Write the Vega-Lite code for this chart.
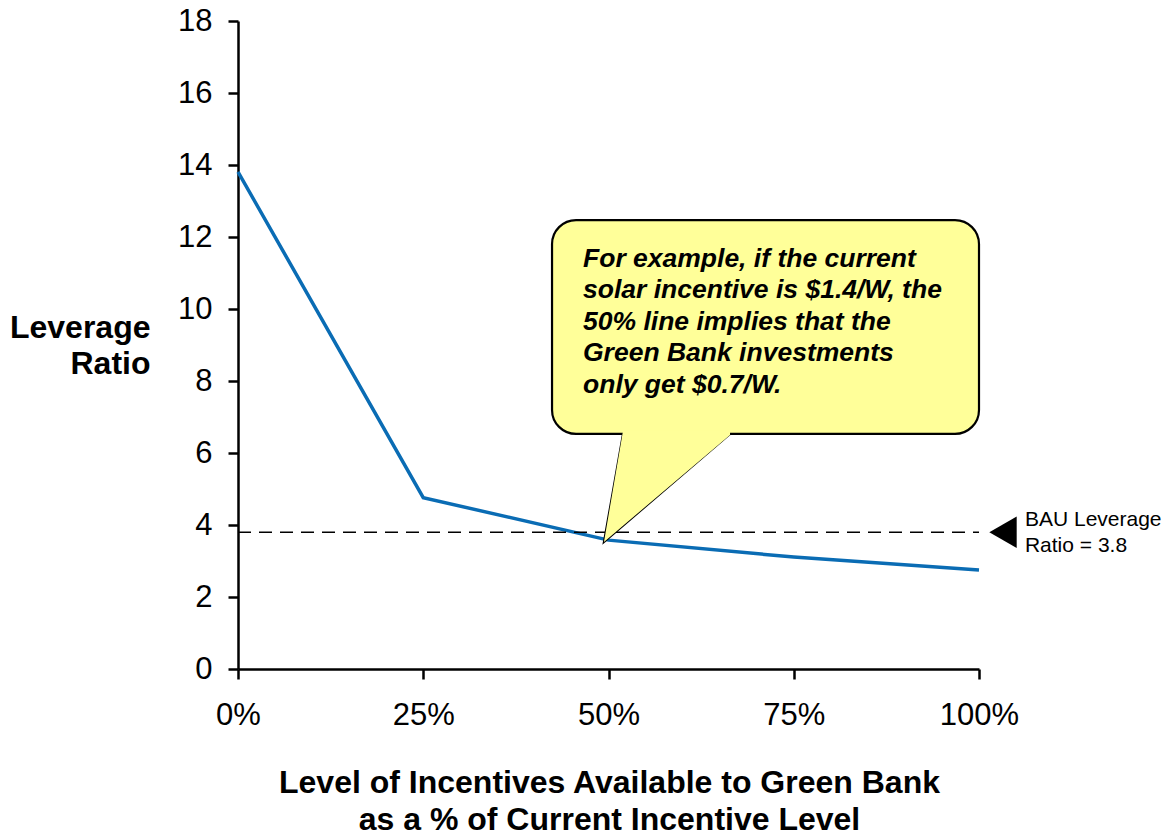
{
  "$schema": "https://vega.github.io/schema/vega-lite/v6.json",
  "width": 741,
  "height": 648,
  "autosize": {"type": "none"},
  "padding": {"left": 238, "top": 21, "right": 184, "bottom": 165},
  "background": "white",
  "config": {
    "view": {"stroke": null},
    "font": "Liberation Sans",
    "axis": {
      "grid": false,
      "domainColor": "black",
      "domainWidth": 2.5,
      "tickColor": "black",
      "tickWidth": 2.5,
      "tickSize": 10,
      "labelColor": "black",
      "labelFont": "Liberation Sans",
      "labelFontSize": 31,
      "labelFlush": false,
      "titleColor": "black",
      "titleFont": "Liberation Sans",
      "titleFontWeight": "bold",
      "titleFontSize": 32
    }
  },
  "datasets": {
    "series": [
      {"x": 0, "y": 13.81},
      {"x": 0.25, "y": 4.76},
      {"x": 0.5, "y": 3.58},
      {"x": 0.75, "y": 3.11},
      {"x": 1, "y": 2.75}
    ],
    "bau": [
      {"x": 0, "y": 3.8},
      {"x": 1, "y": 3.8}
    ],
    "box": [
      {"x": 0.4238, "x2": 1.0, "y": 12.47, "y2": 6.53}
    ],
    "pointerFill": [
      {"x": 0.4939, "y": 3.528, "y2": 3.528},
      {"x": 0.5196, "y": 6.62, "y2": 3.98},
      {"x": 0.664, "y": 6.62, "y2": 6.5}
    ],
    "pointerEdge": [
      {"o": 1, "x": 0.5196, "y": 6.53},
      {"o": 2, "x": 0.4939, "y": 3.528},
      {"o": 3, "x": 0.664, "y": 6.53}
    ],
    "calloutText": [
      {"x": 0.4656, "y": 11.17, "t": ["For example, if the current", "solar incentive is $1.4/W, the", "50% line implies that the", "Green Bank investments", "only get $0.7/W."]}
    ],
    "bauMarker": [
      {"x": 1.0324, "y": 3.8}
    ],
    "bauText": [
      {"x": 1.062, "y": 3.97, "t": ["BAU Leverage", "Ratio = 3.8"]}
    ]
  },
  "layer": [
    {
      "data": {"name": "series"},
      "mark": {"type": "line", "color": "#0a6cb4", "strokeWidth": 3.5},
      "encoding": {
        "x": {
          "field": "x", "type": "quantitative",
          "scale": {"domain": [0, 1], "nice": false, "zero": false},
          "axis": {
            "values": [0, 0.25, 0.5, 0.75, 1],
            "format": ".0%",
            "labelPadding": 21,
            "title": ["Level of Incentives Available to Green Bank", "as a % of Current Incentive Level"],
            "titleAnchor": "middle",
            "titleX": 371,
            "titleY": 123,
            "titleBaseline": "alphabetic",
            "titleLineHeight": 37
          }
        },
        "y": {
          "field": "y", "type": "quantitative",
          "scale": {"domain": [0, 18], "nice": false},
          "axis": {
            "values": [0, 2, 4, 6, 8, 10, 12, 14, 16, 18],
            "labelPadding": 16,
            "title": ["Leverage", "Ratio"],
            "titleAngle": 0,
            "titleAlign": "right",
            "titleBaseline": "alphabetic",
            "titleX": -88,
            "titleY": 316,
            "titleLineHeight": 36
          }
        }
      }
    },
    {
      "data": {"name": "bau"},
      "mark": {"type": "line", "color": "black", "strokeWidth": 1.6, "strokeDash": [13, 8]},
      "encoding": {
        "x": {"field": "x", "type": "quantitative", "scale": {"domain": [0, 1]}},
        "y": {"field": "y", "type": "quantitative", "scale": {"domain": [0, 18]}}
      }
    },
    {
      "data": {"name": "pointerEdge"},
      "mark": {"type": "line", "color": "black", "strokeWidth": 2.2},
      "encoding": {
        "x": {"field": "x", "type": "quantitative", "scale": {"domain": [0, 1]}},
        "y": {"field": "y", "type": "quantitative", "scale": {"domain": [0, 18]}},
        "order": {"field": "o", "type": "quantitative"}
      }
    },
    {
      "data": {"name": "box"},
      "mark": {"type": "rect", "fill": "#ffff99", "stroke": "black", "strokeWidth": 2.2, "cornerRadius": 24},
      "encoding": {
        "x": {"field": "x", "type": "quantitative", "scale": {"domain": [0, 1]}},
        "x2": {"field": "x2"},
        "y": {"field": "y", "type": "quantitative", "scale": {"domain": [0, 18]}},
        "y2": {"field": "y2"}
      }
    },
    {
      "data": {"name": "pointerFill"},
      "mark": {"type": "area", "fill": "#ffff99", "opacity": 1},
      "encoding": {
        "x": {"field": "x", "type": "quantitative", "scale": {"domain": [0, 1]}},
        "y": {"field": "y", "type": "quantitative", "scale": {"domain": [0, 18]}},
        "y2": {"field": "y2"}
      }
    },
    {
      "data": {"name": "calloutText"},
      "mark": {"type": "text", "align": "left", "baseline": "alphabetic", "font": "Liberation Sans", "fontSize": 26.5, "fontWeight": "bold", "fontStyle": "italic", "lineHeight": 31.5, "color": "black"},
      "encoding": {
        "x": {"field": "x", "type": "quantitative", "scale": {"domain": [0, 1]}},
        "y": {"field": "y", "type": "quantitative", "scale": {"domain": [0, 18]}},
        "text": {"field": "t"}
      }
    },
    {
      "data": {"name": "bauMarker"},
      "mark": {"type": "point", "shape": "triangle-left", "filled": true, "color": "black", "size": 1000, "opacity": 1},
      "encoding": {
        "x": {"field": "x", "type": "quantitative", "scale": {"domain": [0, 1]}},
        "y": {"field": "y", "type": "quantitative", "scale": {"domain": [0, 18]}}
      }
    },
    {
      "data": {"name": "bauText"},
      "mark": {"type": "text", "align": "left", "baseline": "alphabetic", "font": "Liberation Sans", "fontSize": 21, "lineHeight": 26, "color": "black"},
      "encoding": {
        "x": {"field": "x", "type": "quantitative", "scale": {"domain": [0, 1]}},
        "y": {"field": "y", "type": "quantitative", "scale": {"domain": [0, 18]}},
        "text": {"field": "t"}
      }
    }
  ]
}
